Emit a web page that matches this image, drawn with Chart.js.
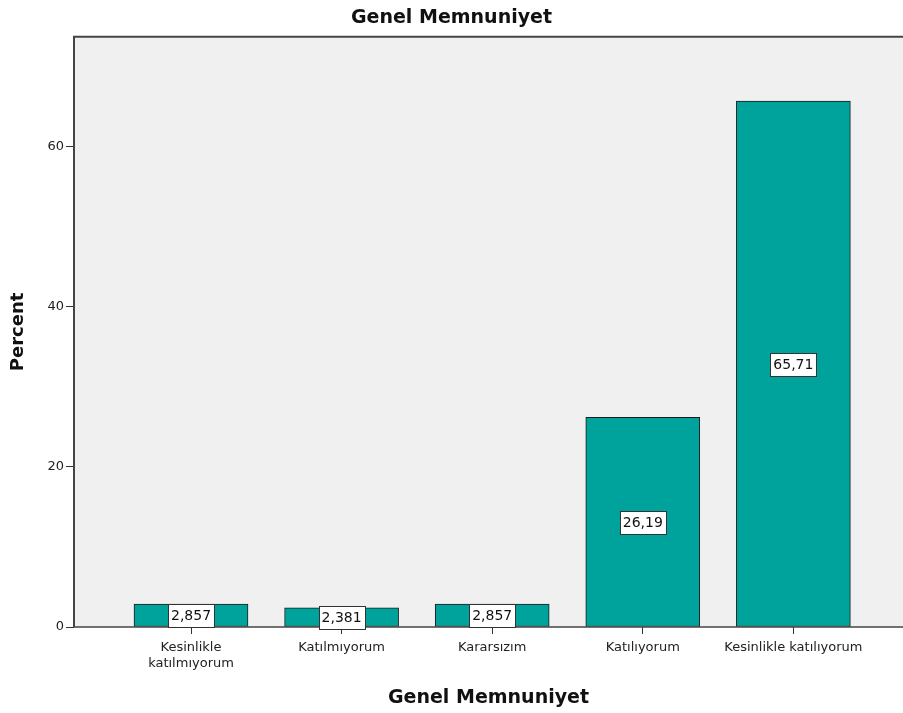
<!DOCTYPE html>
<html>
<head>
<meta charset="utf-8">
<script src="https://cdn.jsdelivr.net/npm/chart.js@4"></script>
<style>
  html, body { margin: 0; padding: 0; background: #ffffff; overflow: hidden; }
  #wrap { width: 903px; height: 713px; }
</style>
</head>
<body>
<div id="wrap"><canvas id="c" width="903" height="713"></canvas></div>
<script>
const chartTitle = 'Genel Memnuniyet';
const xAxisTitle = 'Genel Memnuniyet';
const yAxisTitle = 'Percent';
const categories = [['Kesinlikle', 'katılmıyorum'], 'Katılmıyorum', 'Kararsızım', 'Katılıyorum', 'Kesinlikle katılıyorum'];
const percentValues = [2.857, 2.381, 2.857, 26.19, 65.71];
const valueLabels = ['2,857', '2,381', '2,857', '26,19', '65,71'];
const yTicks = [0, 20, 40, 60];

const FONT = "'DejaVu Sans', Verdana, sans-serif";

const frame = {
  id: 'frame',
  beforeDraw(chart) {
    const {ctx, chartArea: a} = chart;
    ctx.save();
    ctx.fillStyle = '#f0f0f0';
    ctx.fillRect(a.left, a.top, a.right - a.left, a.bottom - a.top);
    ctx.restore();
  },
  afterDatasetsDraw(chart) {
    const {ctx, chartArea: a} = chart;
    ctx.save();
    ctx.strokeStyle = '#444444';
    ctx.lineWidth = 2;
    ctx.beginPath();
    ctx.moveTo(a.left, a.bottom);
    ctx.lineTo(a.left, a.top);
    ctx.lineTo(a.right + 2, a.top);
    ctx.stroke();
    ctx.lineWidth = 1.5;
    ctx.beginPath();
    ctx.moveTo(a.left, a.bottom);
    ctx.lineTo(a.right, a.bottom);
    ctx.stroke();
    // value labels
    const xs = chart.scales.x, ys = chart.scales.y;
    ctx.font = '14px ' + FONT;
    ctx.textAlign = 'center';
    ctx.textBaseline = 'middle';
    percentValues.forEach((v, i) => {
      const cx = xs.getPixelForValue(i);
      const cy = ys.getPixelForValue(v / 2);
      const txt = valueLabels[i];
      const w = Math.round(ctx.measureText(txt).width + 6);
      const h = 23;
      const x0 = Math.round(cx - w / 2) + 0.5, y0 = Math.round(cy - h / 2) + 0.5;
      ctx.fillStyle = '#ffffff';
      ctx.fillRect(x0, y0, w, h);
      ctx.strokeStyle = '#333333';
      ctx.lineWidth = 1;
      ctx.strokeRect(x0, y0, w, h);
      ctx.fillStyle = '#111111';
      ctx.fillText(txt, cx, cy + 1);
    });
    ctx.restore();
  }
};

new Chart(document.getElementById('c'), {
  type: 'bar',
  data: {
    datasets: [{
      data: percentValues.map((v, i) => ({x: i, y: v})),
      backgroundColor: '#00a39c',
      borderColor: '#1a1a1a',
      borderWidth: 1,
      borderSkipped: false,
      barThickness: 114
    }]
  },
  options: {
    responsive: false,
    animation: false,
    events: [],
    layout: { padding: 0 },
    plugins: {
      legend: { display: false },
      tooltip: { enabled: false },
      title: {
        display: true,
        text: chartTitle,
        color: '#111111',
        font: { family: FONT, size: 19, weight: 'bold' },
        padding: { top: 7, bottom: 7 }
      }
    },
    scales: {
      x: {
        type: 'linear',
        offset: false,
        min: -0.777,
        max: 4.728,
        afterBuildTicks(scale) {
          scale.ticks = categories.map((c, i) => ({value: i}));
        },
        afterFit(scale) { scale.height = 86; },
        ticks: {
          autoSkip: false,
          maxRotation: 0,
          padding: 6,
          color: '#222222',
          font: { family: FONT, size: 13 },
          callback: (v) => categories[v]
        },
        grid: { display: true, offset: false, drawOnChartArea: false, drawTicks: true, tickLength: 7, color: '#333333' },
        border: { display: false },
        title: {
          display: true,
          text: xAxisTitle,
          color: '#111111',
          font: { family: FONT, size: 19, weight: 'bold' },
          padding: { top: 0, bottom: 4 }
        }
      },
      y: {
        min: 0,
        max: 73.75,
        afterBuildTicks(scale) {
          scale.ticks = yTicks.map(v => ({value: v}));
        },
        afterFit(scale) { scale.width = 74; },
        ticks: {
          padding: 2,
          color: '#222222',
          font: { family: FONT, size: 13 }
        },
        grid: { display: true, drawOnChartArea: false, drawTicks: true, tickLength: 8, color: '#333333' },
        border: { display: false },
        title: {
          display: true,
          text: yAxisTitle,
          color: '#111111',
          font: { family: FONT, size: 18, weight: 'bold' },
          padding: { top: 8, bottom: 0 }
        }
      }
    }
  },
  plugins: [frame]
});
</script>
</body>
</html>
